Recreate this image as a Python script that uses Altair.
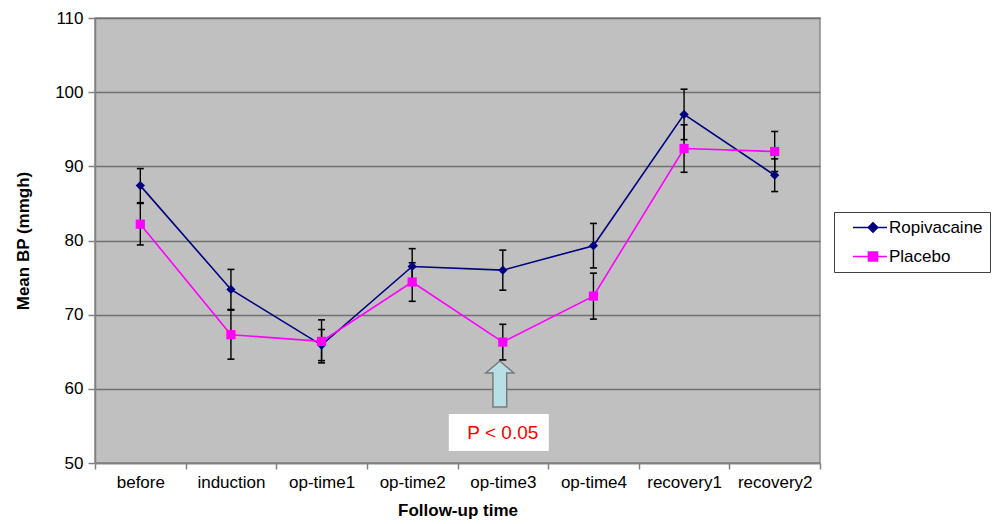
import altair as alt
import pandas as pd

# ---------------- data ----------------
categories = ["before", "induction", "op-time1", "op-time2",
              "op-time3", "op-time4", "recovery1", "recovery2"]
series_names = ["Ropivacaine", "Placebo"]
series_colors = ["#000080", "#ff00ff"]
series_shapes = ["diamond", "square"]

ropi_mean = [87.4, 73.4, 65.9, 76.5, 76.0, 79.3, 97.0, 88.8]
ropi_err = [2.3, 2.7, 2.1, 2.4, 2.7, 3.0, 3.4, 2.2]
placebo_mean = [82.2, 67.3, 66.4, 74.4, 66.3, 72.5, 92.4, 92.0]
placebo_err = [2.8, 3.3, 2.9, 2.6, 2.4, 3.1, 3.2, 2.7]

y_ticks = [50, 60, 70, 80, 90, 100, 110]

annot_category = ["op-time3"]
annot_arrow_y = [60.65]
annot_box_y = [54.1]
annot_text = ["P < 0.05"]

rows = []
for name, means, errs in [(series_names[0], ropi_mean, ropi_err),
                          (series_names[1], placebo_mean, placebo_err)]:
    for c, m, e in zip(categories, means, errs):
        rows.append({"time": c, "series": name, "mean": m,
                     "lo": round(m - e, 2), "hi": round(m + e, 2)})
df = pd.DataFrame(rows)

annot = pd.DataFrame({"time": annot_category, "arrow": annot_arrow_y,
                      "box": annot_box_y, "label": annot_text})

FONT = "Liberation Sans"
Y_TITLE = "Mean BP (mmgh)"

x_enc = alt.X("time:N", sort=categories,
              scale=alt.Scale(type="band", paddingInner=0, paddingOuter=0),
              axis=alt.Axis(title="Follow-up time", tickBand="extent", labelAngle=0,
                            labelFontSize=17, labelColor="#000000", labelPadding=5,
                            tickSize=6, tickColor="#808080", tickWidth=1.5,
                            domainColor="#808080", domainWidth=1.5,
                            titleFontSize=17, titleFontWeight="bold",
                            titlePadding=12, titleColor="#000000", grid=False))

y_scale = alt.Scale(domain=[50, 110], nice=False, zero=False)
y_axis = alt.Axis(values=y_ticks, title=Y_TITLE, labelFontSize=17, labelColor="#000000",
                  labelPadding=5, tickSize=7, tickColor="#808080", tickWidth=1.5,
                  domainColor="#808080", domainWidth=1.5,
                  grid=True, gridColor="#707070", gridWidth=1.4,
                  titleFontSize=17, titleFontWeight="bold", titlePadding=22,
                  titleColor="#000000")


def Y(field):
    return alt.Y(f"{field}:Q", scale=y_scale, axis=y_axis, title=Y_TITLE)


# legend symbols: a short line with the series marker in its middle
ropi_path = "M0.47,0L5.0,0M3.13,-0.62L3.75,0L3.13,0.62L2.51,0Z"
placebo_path = "M0.47,0L5.0,0M2.53,-0.6L3.73,-0.6L3.73,0.6L2.53,0.6Z"

legend = alt.Legend(
    title=None, orient="none", legendX=739, legendY=194,
    strokeColor="#404040", fillColor="white", padding=7, rowPadding=11,
    symbolSize=225, symbolStrokeWidth=1.7, symbolOpacity=1,
    labelOffset=31, labelFontSize=17, labelColor="#000000")

base = alt.Chart(df)

box = alt.Chart(annot).mark_point(
    shape="M-1.08,-0.37L0.92,-0.37L0.92,0.37L-1.08,0.37Z", size=10000,
    filled=True, fill="white", strokeWidth=0, opacity=1
).encode(x=x_enc, y=Y("box"))

arrow = alt.Chart(annot).mark_point(
    shape="M-0.13,-1L0.48,-0.48L0.17,-0.48L0.17,1L-0.43,1L-0.43,-0.48L-0.74,-0.48Z",
    size=2116, filled=True, fill="#b9dfe6", stroke="#7a7a7a", strokeWidth=1.5, opacity=1
).encode(x=x_enc, y=Y("arrow"))

err_rules = base.mark_rule(color="#000000", strokeWidth=1.4).encode(
    x=x_enc, y=Y("lo"), y2="hi")
cap_lo = base.mark_tick(color="#000000", size=7, thickness=1.6, opacity=1).encode(
    x=x_enc, y=Y("lo"))
cap_hi = base.mark_tick(color="#000000", size=7, thickness=1.6, opacity=1).encode(
    x=x_enc, y=Y("hi"))

layers = [box, arrow, err_rules, cap_lo, cap_hi]
for name, col in zip(series_names, series_colors):
    layers.append(base.transform_filter(alt.datum.series == name)
                  .mark_line(strokeWidth=1.6, color=col)
                  .encode(x=x_enc, y=Y("mean")))
for name, col, shp in zip(series_names, series_colors, series_shapes):
    layers.append(base.transform_filter(alt.datum.series == name)
                  .mark_point(filled=True, size=85, opacity=1, color=col, shape=shp)
                  .encode(x=x_enc, y=Y("mean")))

# invisible layer that only carries the legend
legend_layer = base.mark_point(opacity=0, strokeWidth=1.5).encode(
    x=x_enc, y=Y("mean"),
    fill=alt.Fill("series:N", scale=alt.Scale(domain=series_names, range=series_colors),
                  legend=legend),
    stroke=alt.Stroke("series:N", scale=alt.Scale(domain=series_names, range=series_colors),
                      legend=legend),
    shape=alt.Shape("series:N", scale=alt.Scale(domain=series_names,
                                                range=[ropi_path, placebo_path]),
                    legend=legend),
)
layers.append(legend_layer)

text = alt.Chart(annot).mark_text(
    fontSize=19, color="#ff0000", font=FONT, align="center", baseline="middle"
).encode(x=x_enc, y=Y("box"), text="label:N")
layers.append(text)

chart = alt.layer(*layers).properties(
    width=725, height=445,
    autosize=alt.AutoSizeParams(type="none"),
    padding={"left": 95, "top": 18, "right": 173, "bottom": 61},
    background="white",
).configure(font=FONT).configure_view(
    fill="#c0c0c0", stroke="#8c8c8c", strokeWidth=1.5
).configure_axis(labelFont=FONT, titleFont=FONT).configure_legend(
    labelFont=FONT
)

chart.save("out.html", embed_options={"renderer": "svg", "actions": False})
